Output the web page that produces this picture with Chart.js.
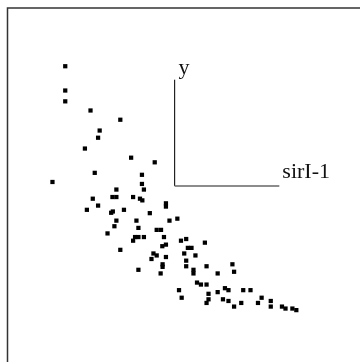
<!DOCTYPE html>
<html>
<head>
<meta charset="utf-8">
<script src="https://cdn.jsdelivr.net/npm/chart.js@4.4.1/dist/chart.umd.min.js"></script>
<style>
  html, body { margin: 0; padding: 0; background: #fff; }
  #wrap { width: 360px; height: 362px; position: relative; }
</style>
</head>
<body>
<div id="wrap"><canvas id="scatterChart"></canvas></div>
<script>
// --- data (arbitrary units, y measured upward) ---
const xValues = [63.3, 63.3, 63.3, 89, 119.3, 98.3, 96.7, 83.3, 130.3, 154.3,
  93.3, 141.3, 50.3, 141.3, 115.3, 143.3, 91.3, 111.3, 115.3, 132.3,
  139.3, 141.7, 165.7, 165.7, 96.7, 85.3, 111.7, 110, 123, 149.3,
  115.3, 135.7, 169.3, 177.3, 113.3, 137.7, 156.3, 160.7, 106.3, 134.3,
  137.7, 143.3, 132.3, 163.7, 181, 186.3, 205.3, 162, 165.7, 188,
  191.7, 119.3, 153, 156.3, 151, 165.7, 184.3, 195.7, 186.3, 162.3,
  162.3, 186.3, 207, 233.3, 137.7, 160.3, 193.7, 193.7, 218.3, 235,
  197.3, 201.3, 207, 179, 181.7, 209, 218.3, 225.7, 229.3, 244.3,
  251.7, 209, 207, 223.7, 229.3, 235, 242.3, 259.3, 263, 272.3,
  272.3, 283.7, 287.3, 294.3, 298.3];
const yValues = [297.7, 273, 262, 252.7, 243.3, 232.3, 225, 214, 204.7, 200,
  189.3, 187.3, 180, 178, 172.3, 172.3, 163, 164.7, 164.7, 164.7,
  163, 161.3, 158.3, 155, 156, 151.7, 150, 148.7, 151.7, 148.3,
  140.7, 140.7, 140.7, 142.7, 135, 133.3, 131.3, 131.3, 127.7, 124,
  124, 124, 120.3, 124, 120.3, 122, 118.3, 114.7, 116.3, 113,
  113, 111, 107.3, 105.3, 101.7, 103.7, 107.3, 105.3, 100, 96.3,
  93.7, 94.3, 94.3, 96.3, 90.7, 87, 90.7, 87, 87, 88.7,
  77.7, 75.7, 75.7, 70, 62.3, 66.3, 68, 72, 70, 70,
  70, 60.7, 57, 60.7, 59, 53.3, 57, 57, 62.3, 59,
  53.3, 53.3, 51.3, 51.3, 49.7];

// axis glyph labels
const glyphXLabel = 'sirI-1';
const glyphYLabel = 'y';

document.addEventListener('DOMContentLoaded', function () {
    let ctx = document.getElementById('scatterChart').getContext('2d');

    let points = xValues.map((x, i) => ({ x: x, y: yValues[i] }));

    // frame (top + left) and the little axis glyph in the middle
    const decoPlugin = {
        id: 'deco',
        afterDraw(chart) {
            const c = chart.ctx;
            const xs = chart.scales.x, ys = chart.scales.y;
            c.save();
            c.strokeStyle = '#333';
            c.lineWidth = 1.5;
            c.beginPath();
            c.moveTo(7.5, 362);
            c.lineTo(7.5, 8);
            c.lineTo(360, 8);
            c.stroke();

            const ox = xs.getPixelForValue(174.5);
            const oy = ys.getPixelForValue(176);
            const top = ys.getPixelForValue(284);
            const right = xs.getPixelForValue(281);
            c.lineWidth = 1.2;
            c.strokeStyle = '#222';
            c.beginPath();
            c.moveTo(ox, top);
            c.lineTo(ox, oy);
            c.stroke();
            c.strokeStyle = '#666';
            c.lineWidth = 1.5;
            c.beginPath();
            c.moveTo(ox, oy);
            c.lineTo(right, oy);
            c.stroke();

            c.fillStyle = '#111';
            c.font = '22px "Liberation Serif", "Times New Roman", serif';
            c.textBaseline = 'alphabetic';
            c.textAlign = 'left';
            c.fillText(glyphYLabel, ox + 4, top - 6);
            c.fillText(glyphXLabel, right + 3, oy - 8);
            c.restore();
        }
    };

    new Chart(ctx, {
        type: 'scatter',
        data: {
            datasets: [{
                data: points,
                pointStyle: 'rect',
                pointRadius: 3,
                pointHoverRadius: 3,
                borderWidth: 0,
                backgroundColor: '#000',
                borderColor: '#000'
            }]
        },
        options: {
            responsive: true,
            maintainAspectRatio: false,
            animation: false,
            layout: { padding: 0 },
            scales: {
                x: { type: 'linear', min: 0, max: 360, display: false },
                y: { type: 'linear', min: 0, max: 362, display: false }
            },
            plugins: {
                legend: { display: false },
                tooltip: { enabled: false }
            }
        },
        plugins: [decoPlugin]
    });
});
</script>
</body>
</html>
